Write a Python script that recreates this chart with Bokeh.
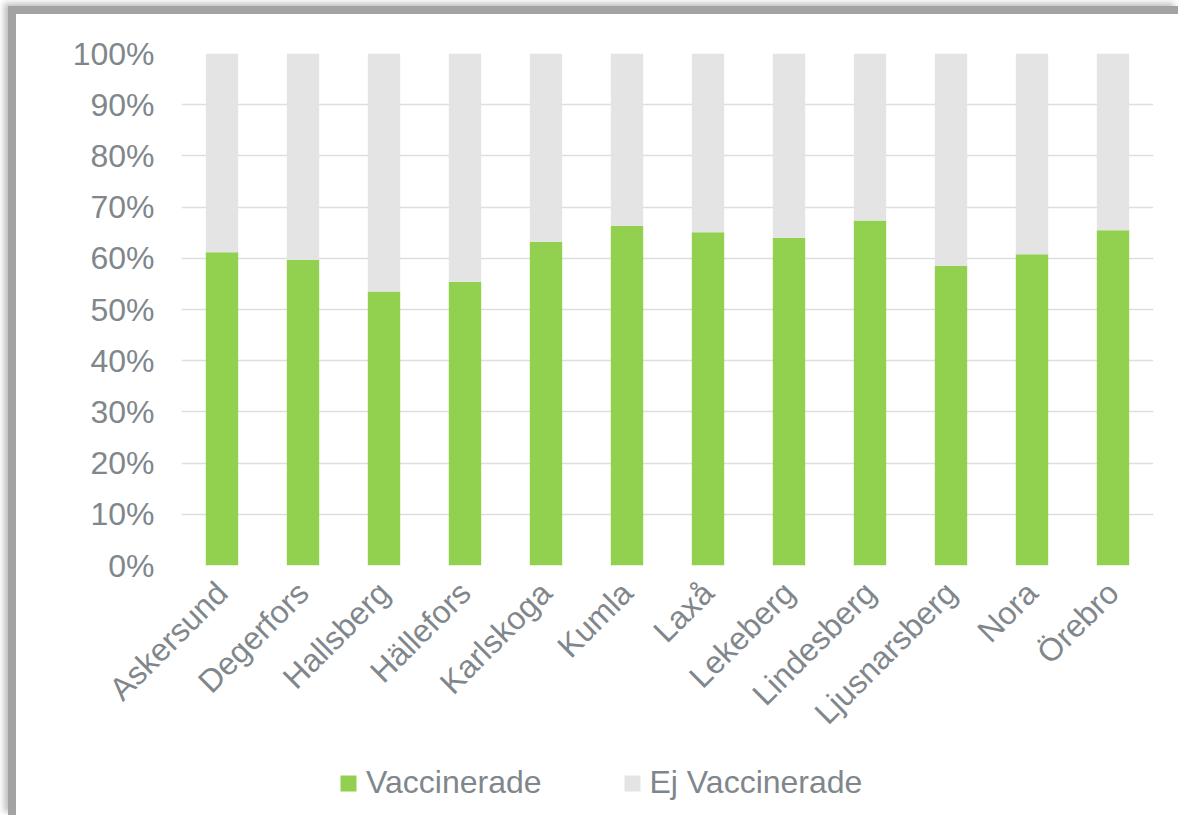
from bokeh.plotting import figure
from bokeh.models import (ColumnDataSource, FactorRange, FixedTicker, NumeralTickFormatter,
                          Legend, LegendItem)
from bokeh.layouts import column
from bokeh.embed import file_html
from bokeh.resources import INLINE
import math

kommuner = ["Askersund", "Degerfors", "Hallsberg", "Hällefors", "Karlskoga", "Kumla",
            "Laxå", "Lekeberg", "Lindesberg", "Ljusnarsberg", "Nora", "Örebro"]
vaccinerade = [61.2, 59.7, 53.5, 55.4, 63.2, 66.3, 65.1, 64.0, 67.4, 58.5, 60.8, 65.5]
ej_vaccinerade = [round(100 - v, 1) for v in vaccinerade]
y_ticks = [0, 10, 20, 30, 40, 50, 60, 70, 80, 90, 100]
series = ["Vaccinerade", "Ej Vaccinerade"]

GREEN = "#92D050"
GRAY = "#E4E4E4"
TEXT = "#7f878c"
FONT = "Liberation Sans"

src = ColumnDataSource(dict(
    k=kommuner,
    v=[x / 100 for x in vaccinerade],
    e=[x / 100 for x in ej_vaccinerade],
))

# main chart
p = figure(width=1162, height=732, x_range=FactorRange(*kommuner, range_padding=0),
           y_range=(0, 1), output_backend="svg", toolbar_location=None,
           min_border_left=165, min_border_right=25, min_border_top=39, min_border_bottom=175)
p.x_range.range_padding = 0

r = p.vbar_stack(["v", "e"], x="k", width=0.4, source=src, color=[GREEN, GRAY],
                 line_color=None)

p.outline_line_color = None
p.background_fill_color = "white"
p.border_fill_color = "white"

p.xgrid.grid_line_color = None
p.ygrid.grid_line_color = "#DEDEDE"
p.ygrid.grid_line_width = 1.4
p.ygrid.level = "underlay"

p.yaxis.ticker = FixedTicker(ticks=[t / 100 for t in y_ticks])
p.yaxis.formatter = NumeralTickFormatter(format="0%")
for ax in (p.xaxis[0], p.yaxis[0]):
    ax.axis_line_color = None
    ax.major_tick_line_color = None
    ax.minor_tick_line_color = None
    ax.major_label_text_font = FONT
    ax.major_label_text_font_size = "32px"
    ax.major_label_text_color = TEXT
p.yaxis.major_label_standoff = 21
p.xaxis.major_label_orientation = math.pi / 4
p.xaxis.major_label_standoff = 16

# legend strip (its frame is aligned with the chart's frame by the column layout)
q = figure(width=1162, height=69, x_range=(0, 1), y_range=(0, 1),
           output_backend="svg", toolbar_location=None,
           x_axis_type=None, y_axis_type=None, min_border=0)
q.grid.visible = False
q.outline_line_color = None
q.border_fill_color = "white"
q.background_fill_color = "white"
lg_src = ColumnDataSource(dict(x=[5.0], top=[5.0]))  # outside the visible range
g1 = q.vbar(x="x", top="top", bottom=4.0, width=0.4, source=lg_src, color=GREEN, line_color=None)
g2 = q.vbar(x="x", top="top", bottom=4.0, width=0.4, source=lg_src, color=GRAY, line_color=None)

legend = Legend(items=[LegendItem(label=series[0], renderers=[g1]),
                       LegendItem(label=series[1], renderers=[g2])],
                orientation="horizontal", location=(157, 14),
                glyph_width=20, glyph_height=20, label_standoff=8, spacing=80,
                padding=0, margin=0, border_line_color=None, background_fill_alpha=0,
                label_text_font=FONT, label_text_font_size="32px", label_text_color=TEXT)
q.add_layout(legend, "center")

layout = column(p, q, spacing=0)
layout.styles = {"margin-left": "8px", "margin-top": "6px",
                 "border-left": "8px solid #a3a3a3", "border-top": "8px solid #a3a3a3",
                 "box-shadow": "-4px -3px 6px rgba(0,0,0,0.25)"}

open("out.html", "w").write(file_html(layout, INLINE))
